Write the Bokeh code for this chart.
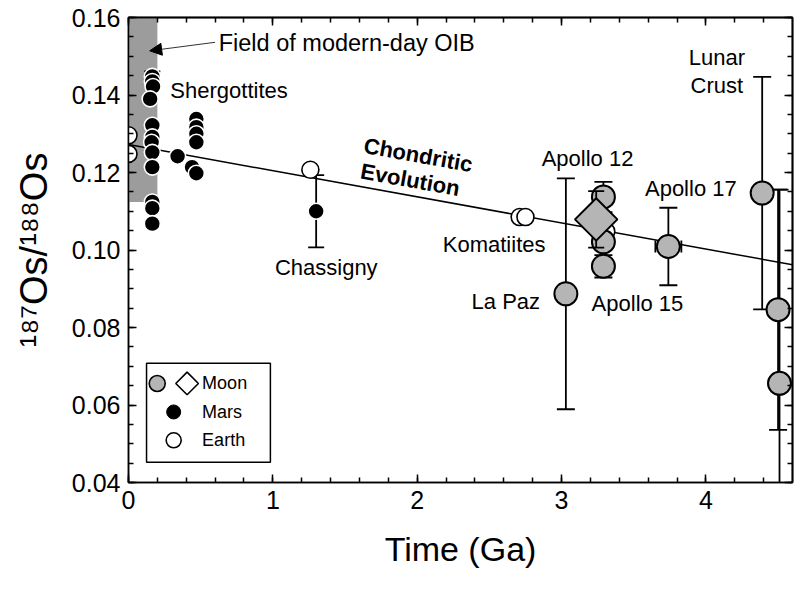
import math
from bokeh.plotting import figure
from bokeh.models import (Range1d, LinearAxis, FixedTicker, PrintfTickFormatter,
                          Label, Arrow, NormalHead)
from bokeh.embed import file_html
from bokeh.resources import INLINE

# ---------------- data ----------------
oib_left = [0.0]
oib_right = [0.20]
oib_bottom = [0.1124]
oib_top = [0.16]

chond_x = [0.0, 4.6]
chond_y = [0.1272, 0.0962]

earth_x = [0.0, 0.0, 1.26, 2.71, 2.75, 3.31]
earth_y = [0.1296, 0.1248, 0.1207, 0.1085, 0.1085, 0.1048]

mars_x = [0.165, 0.165, 0.17, 0.15, 0.165, 0.165, 0.16, 0.165, 0.165, 0.165, 0.165, 0.165,
          0.34, 0.47, 0.47, 0.47, 0.47, 0.44, 0.47, 1.30]
mars_y = [0.1448, 0.1435, 0.1422, 0.1390, 0.1322, 0.1292, 0.1278, 0.1252, 0.1214, 0.1124, 0.1108, 0.1068,
          0.1242, 0.1338, 0.1317, 0.1300, 0.1278, 0.1214, 0.1198, 0.1100]
mars_err_x = [0.165, 1.30]
mars_err_y = [0.1448, 0.1100]
mars_err = [0.0013, 0.0093]

moon_x = [3.03, 3.29, 3.29, 3.29, 3.74, 4.39, 4.50, 4.51]
moon_y = [0.0887, 0.1137, 0.1021, 0.0958, 0.1009, 0.1147, 0.0846, 0.0656]
moon_err = [0.0298, 0.0039, 0.0, 0.0029, 0.0100, 0.0300, 0.0310, 0.0500]
moon_xerr = [0.0, 0.0, 0.0, 0.0, 0.09, 0.0, 0.0, 0.0]

diam_x = [3.24]
diam_y = [0.1079]
diam_err = [0.0073]

x_major = [0, 1, 2, 3, 4]
x_minor = [i * 0.2 for i in range(24)]
y_major = [0.04, 0.06, 0.08, 0.10, 0.12, 0.14, 0.16]
y_minor = [0.04 + i * 0.005 for i in range(25)]

FONT = "Liberation Sans"
GREY_FIELD = "#9c9c9c"
MOON_FILL = "#b5b5b5"

p = figure(width=794, height=590, x_range=Range1d(0, 4.6), y_range=Range1d(0.04, 0.16),
           output_backend="svg", toolbar_location=None,
           min_border_left=128, min_border_right=2, min_border_top=17, min_border_bottom=108)
p.grid.visible = False
p.outline_line_color = "black"
p.outline_line_width = 1.5
p.background_fill_color = "white"
p.border_fill_color = "white"

def style_axis(ax):
    ax.axis_line_color = "black"
    ax.axis_line_width = 1.5
    ax.major_tick_in = 8
    ax.major_tick_out = 0
    ax.minor_tick_in = 5
    ax.minor_tick_out = 0
    ax.major_tick_line_width = 1.5
    ax.minor_tick_line_width = 1.5
    ax.major_label_text_font = FONT
    ax.major_label_text_font_size = "25px"
    ax.major_label_text_color = "black"
    ax.axis_label_text_font = FONT
    ax.axis_label_text_font_style = "normal"
    ax.axis_label_text_color = "black"

xa = p.xaxis[0]
xa.ticker = FixedTicker(ticks=x_major, minor_ticks=x_minor)
xa.formatter = PrintfTickFormatter(format="%d")
style_axis(xa)
xa.major_label_standoff = 8
xa.axis_label = "Time (Ga)"
xa.axis_label_text_font_size = "34px"
xa.axis_label_standoff = 18

ya = p.yaxis[0]
ya.ticker = FixedTicker(ticks=y_major, minor_ticks=y_minor)
ya.formatter = PrintfTickFormatter(format="%.2f")
style_axis(ya)
ya.major_label_standoff = 8
ya.axis_label = "\u00b9\u2078\u2077Os/\u00b9\u2078\u2078Os"
ya.axis_label_text_font = "Liberation Sans, DejaVu Sans"
ya.axis_label_text_font_size = "38px"
ya.axis_label_standoff = 14

# unlabeled tick-only axes on top and right (ticks only, no label texts)
def tick_axis(major, minor, side):
    for ticks, ln in ((major, 8), (minor, 5)):
        ax = LinearAxis(ticker=FixedTicker(ticks=[], minor_ticks=ticks))
        ax.axis_line_color = "black"
        ax.axis_line_width = 1.5
        ax.major_tick_in = 0
        ax.major_tick_out = 0
        ax.minor_tick_in = ln
        ax.minor_tick_out = 0
        ax.minor_tick_line_width = 1.5
        ax.major_label_standoff = 0
        p.add_layout(ax, side)

tick_axis(x_major, x_minor, "above")
tick_axis(y_major, y_minor, "right")

# OIB field
p.quad(left=oib_left, right=oib_right, bottom=oib_bottom, top=oib_top,
       fill_color=GREY_FIELD, line_color=None)

# chondritic evolution line
p.line(chond_x, chond_y, line_color="black", line_width=1.5)

def errbars(xs, ys, es, width=2, cap=17):
    sx = [x for x, e in zip(xs, es) if e > 0]
    sy = [y for y, e in zip(ys, es) if e > 0]
    se = [e for e in es if e > 0]
    lo = [y - e for y, e in zip(sy, se)]
    hi = [y + e for y, e in zip(sy, se)]
    p.segment(x0=sx, y0=lo, x1=sx, y1=hi, line_color="black", line_width=width)
    p.scatter(x=sx + sx, y=lo + hi, marker="dash", size=cap, line_color="black", line_width=width)

def xerrbars(xs, ys, es, width=2, cap=12):
    sx = [x for x, e in zip(xs, es) if e > 0]
    sy = [y for y, e in zip(ys, es) if e > 0]
    se = [e for e in es if e > 0]
    lo = [x - e for x, e in zip(sx, se)]
    hi = [x + e for x, e in zip(sx, se)]
    p.segment(x0=lo, y0=sy, x1=hi, y1=sy, line_color="black", line_width=width)
    p.scatter(x=lo + hi, y=sy + sy, marker="dash", angle=math.pi / 2, size=cap,
              line_color="black", line_width=width)

errbars(mars_err_x, mars_err_y, mars_err, width=1.8, cap=16)
errbars(moon_x, moon_y, moon_err, width=1.8, cap=18)
xerrbars(moon_x, moon_y, moon_xerr, width=1.8, cap=12)

# Earth (open circles)
p.scatter(earth_x, earth_y, marker="circle", size=17, fill_color="white", line_color="black", line_width=1.6)
# Mars (black circles, white rim)
p.scatter(mars_x, mars_y, marker="circle", size=16, fill_color="black", line_color="white", line_width=1.6)
# Moon (grey circles)
p.scatter(moon_x, moon_y, marker="circle", size=23, fill_color=MOON_FILL, line_color="black", line_width=2)
# Moon diamond
errbars(diam_x, diam_y, diam_err, width=1.8, cap=16)
p.scatter(diam_x, diam_y, marker="square", angle=math.pi / 4, size=30,
          fill_color=MOON_FILL, line_color="black", line_width=2)

def lab(x, y, t, align="left", size="22px", style="normal", angle=0.0):
    p.add_layout(Label(x=x, y=y, text=t, text_font=FONT, text_font_size=size,
                       text_font_style=style, text_align=align, text_baseline="middle",
                       text_color="black", angle=angle))

lab(0.625, 0.1534, "Field of modern-day OIB", size="23.5px")
lab(0.29, 0.1412, "Shergottites")
lab(1.37, 0.0956, "Chassigny", align="center")
lab(2.533, 0.1013, "Komatiites", align="center")
lab(2.851, 0.0866, "La Paz", align="right")
lab(3.18, 0.1237, "Apollo 12", align="center")
lab(3.526, 0.0861, "Apollo 15", align="center")
lab(3.578, 0.1159, "Apollo 17")
lab(4.076, 0.1497, "Lunar", align="center")
lab(4.076, 0.1425, "Crust", align="center")
lab(2.007, 0.1245, "Chondritic", align="center", style="bold", angle=-0.178)
lab(1.952, 0.1181, "Evolution", align="center", style="bold", angle=-0.178)

p.add_layout(Arrow(end=NormalHead(size=12, fill_color="black", line_color="black", line_width=1),
                   x_start=0.60, y_start=0.1536, x_end=0.147, y_end=0.1514,
                   line_color="#333333", line_width=1))

# legend (layout constants)
LEG_L, LEG_R, LEG_B, LEG_T = 0.125, 0.983, 0.0452, 0.0708
p.quad(left=[LEG_L], right=[LEG_R], bottom=[LEG_B], top=[LEG_T],
       fill_color="white", line_color="black", line_width=1.5)
ROW = [0.06555, 0.0582, 0.0509]
p.scatter([0.199], [ROW[0]], marker="circle", size=16, fill_color=MOON_FILL, line_color="black", line_width=1.6)
p.scatter([0.406], [ROW[0]], marker="square", angle=math.pi / 4, size=16, fill_color="white",
          line_color="black", line_width=1.6)
p.scatter([0.313], [ROW[1]], marker="circle", size=14, fill_color="black", line_color="black")
p.scatter([0.313], [ROW[2]], marker="circle", size=15, fill_color="white", line_color="black", line_width=1.6)
for r, t in zip(ROW, ["Moon", "Mars", "Earth"]):
    lab(0.51, r, t, size="18px")

open("out.html", "w").write(file_html(p, INLINE))
